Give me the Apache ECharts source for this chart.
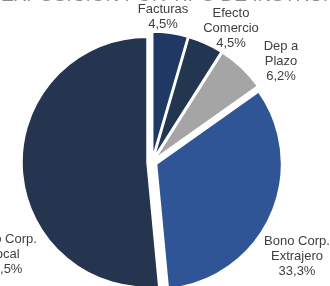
<!DOCTYPE html>
<html>
<head>
<meta charset="utf-8">
<script src="https://cdn.jsdelivr.net/npm/echarts@6/dist/echarts.min.js"></script>
<style>
  html, body { margin: 0; padding: 0; background: #fff; }
  #chart { width: 330px; height: 286px; }
</style>
</head>
<body>
<div id="chart"></div>
<script>
// datos del gráfico
const categorias = ['Facturas', 'Efecto\nComercio', 'Dep a\nPlazo', 'Bono Corp.\nExtrajero', 'Bono Corp.\nLocal'];
const valores = [4.5, 4.5, 6.2, 33.3, 51.5];
const colores = ['#1F3864', '#233650', '#A5A5A5', '#2F5597', '#253550'];

// dónde va cada etiqueta (centro del texto)
const etiquetas = [[163, 17], [231, 28], [281, 61], [297, 256], [4, 254]];

const myChart = echarts.init(document.getElementById('chart'));

function fmt(v) {
    return v.toFixed(1).replace('.', ',') + '%';
}

const option = {
    animation: false,
    title: {
        text: 'EXPOSICIÓN POR TIPO DE INSTRUMENTO',
        left: -4,
        top: -19,
        textStyle: { color: '#8c8c8c', fontSize: 19, fontWeight: 'normal', fontFamily: 'Liberation Sans' }
    },
    graphic: categorias.map(function (c, i) {
        return {
            type: 'text',
            x: etiquetas[i][0],
            y: etiquetas[i][1],
            z: 10,
            style: {
                text: c + '\n' + fmt(valores[i]),
                fill: '#404040',
                font: '13px "Liberation Sans"',
                lineHeight: 15,
                align: 'center',
                verticalAlign: 'middle'
            }
        };
    }),
    series: [
        {
            type: 'pie',
            center: [152, 162],
            radius: 125,
            startAngle: 90,
            clockwise: true,
            selectedMode: 'multiple',
            selectedOffset: 5,
            emphasis: { disabled: true },
            itemStyle: { borderColor: '#fff', borderWidth: 1.5 },
            select: { itemStyle: { borderColor: '#fff', borderWidth: 1.5 } },
            label: { show: false },
            labelLine: { show: false },
            data: categorias.map(function (c, i) {
                return { name: c, value: valores[i], selected: true, itemStyle: { color: colores[i] } };
            })
        }
    ]
};

myChart.setOption(option);
</script>
</body>
</html>
